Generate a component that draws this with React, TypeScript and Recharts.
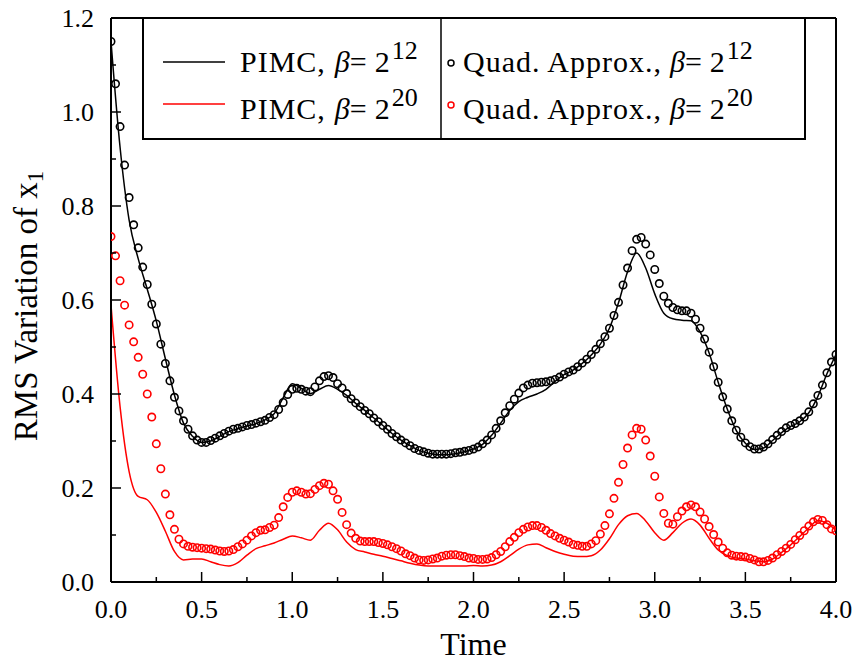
import React from 'react';
import { ComposedChart, Line, Scatter, XAxis, YAxis, Label } from 'recharts';

// Quadratic approximation samples (t = 0 .. 4 step 0.025)
const QUAD_STEP = 0.025;
const quad12 = [
  1.150, 1.060, 0.969, 0.887, 0.818, 0.760, 0.711, 0.670, 0.633, 0.591,
  0.549, 0.506, 0.465, 0.428, 0.393, 0.364, 0.343, 0.325, 0.311, 0.302,
  0.297, 0.297, 0.301, 0.306, 0.311, 0.316, 0.321, 0.325, 0.327, 0.330,
  0.333, 0.335, 0.338, 0.341, 0.344, 0.350, 0.356, 0.367, 0.382, 0.399,
  0.410, 0.412, 0.410, 0.406, 0.405, 0.415, 0.428, 0.437, 0.439, 0.435,
  0.422, 0.413, 0.401, 0.390, 0.381, 0.373, 0.365, 0.358, 0.349, 0.341,
  0.333, 0.325, 0.316, 0.309, 0.302, 0.296, 0.290, 0.284, 0.280, 0.277,
  0.274, 0.272, 0.272, 0.272, 0.272, 0.273, 0.275, 0.276, 0.278, 0.280,
  0.283, 0.287, 0.294, 0.302, 0.313, 0.327, 0.343, 0.360, 0.375, 0.389,
  0.402, 0.413, 0.419, 0.423, 0.424, 0.425, 0.426, 0.428, 0.431, 0.436,
  0.442, 0.447, 0.451, 0.458, 0.466, 0.474, 0.484, 0.495, 0.507, 0.522,
  0.540, 0.567, 0.595, 0.632, 0.668, 0.705, 0.729, 0.733, 0.719, 0.696,
  0.665, 0.635, 0.608, 0.593, 0.584, 0.579, 0.577, 0.577, 0.572, 0.559,
  0.540, 0.517, 0.489, 0.458, 0.425, 0.394, 0.368, 0.343, 0.323, 0.308,
  0.296, 0.288, 0.283, 0.283, 0.287, 0.294, 0.303, 0.312, 0.320, 0.328,
  0.333, 0.337, 0.343, 0.351, 0.362, 0.379, 0.397, 0.419, 0.445, 0.468,
  0.484,
];
const quad20 = [
  0.735, 0.694, 0.641, 0.589, 0.547, 0.511, 0.478, 0.442, 0.400, 0.351,
  0.294, 0.241, 0.187, 0.143, 0.112, 0.091, 0.081, 0.076, 0.074, 0.073,
  0.072, 0.071, 0.070, 0.068, 0.066, 0.065, 0.066, 0.069, 0.075, 0.081,
  0.089, 0.098, 0.105, 0.110, 0.111, 0.116, 0.121, 0.137, 0.160, 0.180,
  0.191, 0.194, 0.191, 0.187, 0.188, 0.197, 0.205, 0.210, 0.208, 0.194,
  0.176, 0.148, 0.122, 0.104, 0.093, 0.087, 0.086, 0.086, 0.086, 0.084,
  0.082, 0.079, 0.075, 0.071, 0.066, 0.060, 0.056, 0.051, 0.047, 0.046,
  0.047, 0.049, 0.051, 0.055, 0.057, 0.058, 0.058, 0.056, 0.054, 0.051,
  0.050, 0.048, 0.048, 0.049, 0.052, 0.058, 0.065, 0.075, 0.086, 0.095,
  0.105, 0.112, 0.117, 0.120, 0.120, 0.116, 0.110, 0.103, 0.098, 0.093,
  0.089, 0.085, 0.080, 0.078, 0.076, 0.076, 0.081, 0.088, 0.102, 0.120,
  0.145, 0.178, 0.212, 0.250, 0.285, 0.313, 0.327, 0.325, 0.302, 0.268,
  0.225, 0.181, 0.146, 0.125, 0.123, 0.139, 0.151, 0.160, 0.164, 0.160,
  0.149, 0.134, 0.118, 0.101, 0.085, 0.072, 0.062, 0.057, 0.055, 0.054,
  0.053, 0.050, 0.047, 0.043, 0.043, 0.046, 0.051, 0.058, 0.065, 0.072,
  0.080, 0.090, 0.099, 0.109, 0.119, 0.128, 0.133, 0.131, 0.122, 0.113,
  0.109,
];

// PIMC samples (t = 0 .. 4 step 0.05)
const LINE_STEP = 0.05;
const pimc12 = [
  1.150, 0.925, 0.770, 0.688, 0.623, 0.555, 0.475, 0.398, 0.338, 0.310,
  0.297, 0.300, 0.310, 0.320, 0.326, 0.332, 0.337, 0.345, 0.358, 0.392,
  0.422, 0.412, 0.401, 0.410, 0.418, 0.410, 0.397, 0.380, 0.365, 0.349,
  0.333, 0.316, 0.302, 0.290, 0.280, 0.274, 0.271, 0.271, 0.273, 0.277,
  0.283, 0.293, 0.312, 0.338, 0.365, 0.384, 0.393, 0.400, 0.410, 0.427,
  0.441, 0.451, 0.465, 0.483, 0.506, 0.540, 0.594, 0.660, 0.700, 0.668,
  0.613, 0.572, 0.560, 0.557, 0.556, 0.532, 0.487, 0.425, 0.368, 0.322,
  0.295, 0.282, 0.285, 0.301, 0.318, 0.331, 0.341, 0.360, 0.395, 0.443,
  0.484,
];
const pimc20 = [
  0.589, 0.373, 0.235, 0.182, 0.175, 0.148, 0.108, 0.065, 0.047, 0.049,
  0.049, 0.043, 0.037, 0.034, 0.041, 0.057, 0.071, 0.077, 0.083, 0.091,
  0.098, 0.094, 0.089, 0.110, 0.125, 0.111, 0.085, 0.069, 0.064, 0.059,
  0.055, 0.050, 0.045, 0.040, 0.036, 0.034, 0.034, 0.034, 0.034, 0.034,
  0.035, 0.034, 0.036, 0.043, 0.056, 0.070, 0.079, 0.081, 0.073, 0.065,
  0.059, 0.055, 0.054, 0.056, 0.068, 0.092, 0.122, 0.141, 0.146, 0.130,
  0.105, 0.089, 0.105, 0.125, 0.134, 0.121, 0.093, 0.068, 0.056, 0.051,
  0.049, 0.045, 0.043, 0.049, 0.063, 0.079, 0.097, 0.115, 0.131, 0.125,
  0.110,
];

const xTicks = [0, 0.25, 0.5, 0.75, 1, 1.25, 1.5, 1.75, 2, 2.25, 2.5, 2.75, 3, 3.25, 3.5, 3.75, 4];
const xMajor = [0, 0.5, 1, 1.5, 2, 2.5, 3, 3.5, 4];
const yTicks = [0, 0.1, 0.2, 0.3, 0.4, 0.5, 0.6, 0.7, 0.8, 0.9, 1.0, 1.1, 1.2];
const yMajor = [0, 0.2, 0.4, 0.6, 0.8, 1.0, 1.2];

const FONT = '"Liberation Serif", "Times New Roman", Times, serif';

const toPoints = (vals: number[], step: number) =>
  vals.map((v, i) => ({ t: Math.round(i * step * 1000) / 1000, v }));

const q12 = toPoints(quad12, QUAD_STEP);
const q20 = toPoints(quad20, QUAD_STEP);
const p12 = toPoints(pimc12, LINE_STEP);
const p20 = toPoints(pimc20, LINE_STEP);

const isMajor = (val: number, majors: number[]) => majors.some((m) => Math.abs(m - val) < 1e-6);

const XTick = (props: any) => {
  const { x, y, payload } = props;
  const major = isMajor(payload.value, xMajor);
  return (
    <g>
      <line x1={x} x2={x} y1={y} y2={y - (major ? 10 : 5)} stroke="#000" strokeWidth={1.5} />
      {major && (
        <text x={x} y={y + 36} textAnchor="middle" style={{ fontFamily: FONT, fontSize: 26 }} fill="#000">
          {payload.value.toFixed(1)}
        </text>
      )}
    </g>
  );
};

const YTickLeft = (props: any) => {
  const { x, y, payload } = props;
  const major = isMajor(payload.value, yMajor);
  return (
    <g>
      <line x1={x} x2={x + (major ? 10 : 5)} y1={y} y2={y} stroke="#000" strokeWidth={1.5} />
      {major && (
        <text x={x - 17} y={y + 9} textAnchor="end" style={{ fontFamily: FONT, fontSize: 26 }} fill="#000">
          {payload.value.toFixed(1)}
        </text>
      )}
    </g>
  );
};

const YTickRight = (props: any) => {
  const { x, y, payload } = props;
  const major = isMajor(payload.value, yMajor);
  return <line x1={x} x2={x - (major ? 10 : 5)} y1={y} y2={y} stroke="#000" strokeWidth={1.5} />;
};

const NoTick = () => <g />;

const circleShape = (color: string) => (p: any) =>
  <circle cx={p.cx} cy={p.cy} r={3.7} fill="none" stroke={color} strokeWidth={1.6} />;

const TimeLabel = (props: any) => {
  const vb = props.viewBox || {};
  return (
    <text x={vb.x + vb.width / 2} y={vb.y + 73} textAnchor="middle" style={{ fontFamily: FONT, fontSize: 32 }} fill="#000">
      Time
    </text>
  );
};

const RmsLabel = (props: any) => {
  const vb = props.viewBox || {};
  const cx = 37;
  const cy = vb.y + vb.height / 2 + 6;
  return (
    <text
      x={cx}
      y={cy}
      transform={`rotate(-90, ${cx}, ${cy})`}
      textAnchor="middle"
      style={{ fontFamily: FONT, fontSize: 33 }}
      fill="#000"
    >
      RMS Variation of x<tspan style={{ fontSize: 23 }} dy={6}>1</tspan>
    </text>
  );
};

const Entry = ({ x, y, label, exp, gap }: { x: number; y: number; label: string; exp: string; gap: number }) => (
  <text x={x} y={y} style={{ fontFamily: FONT, fontSize: 30 }} fill="#000">
    <tspan letterSpacing={1}>{label}</tspan>
    <tspan dx={gap} fontStyle="italic">β</tspan>
    <tspan>=</tspan>
    <tspan dx={8}>2</tspan>
    <tspan style={{ fontSize: 26 }} dx={2} dy={-13}>{exp}</tspan>
  </text>
);

const LegendBox = () => (
  <svg
    width={856}
    height={661}
    style={{ position: 'absolute', left: 0, top: 0, pointerEvents: 'none' }}
  >
    <rect x={143} y={18} width={662} height={121} fill="#fff" stroke="#000" strokeWidth={2} />
    <line x1={441} x2={441} y1={18} y2={139} stroke="#000" strokeWidth={1.5} />
    <line x1={163} x2={225} y1={62} y2={62} stroke="#000" strokeWidth={1.5} />
    <line x1={163} x2={225} y1={104} y2={104} stroke="#ff0000" strokeWidth={1.5} />
    <Entry x={240} y={72} label="PIMC," exp="12" gap={9} />
    <Entry x={240} y={119} label="PIMC," exp="20" gap={9} />
    <circle cx={451} cy={63} r={3} fill="none" stroke="#000" strokeWidth={1.5} />
    <circle cx={451} cy={105} r={3} fill="none" stroke="#ff0000" strokeWidth={1.5} />
    <Entry x={463} y={72} label="Quad. Approx.," exp="12" gap={8} />
    <Entry x={463} y={119} label="Quad. Approx.," exp="20" gap={8} />
  </svg>
);

export default function App() {
  return (
    <div style={{ position: 'relative', width: 856, height: 661, background: '#fff' }}>
      <style>{'body{margin:0;background:#fff;}'}</style>
      <ComposedChart width={856} height={661} margin={{ top: 0, right: 0, bottom: 0, left: 0 }}>
        <XAxis
          dataKey="t"
          type="number"
          domain={[0, 4]}
          ticks={xTicks}
          interval={0}
          height={79}
          tickSize={0}
          tickMargin={0}
          tickLine={false}
          axisLine={{ stroke: '#000', strokeWidth: 2 }}
          tick={(p: any) => <XTick {...p} />}
          allowDataOverflow
        >
          <Label content={(p: any) => <TimeLabel {...p} />} />
        </XAxis>
        <XAxis
          xAxisId="top"
          orientation="top"
          type="number"
          domain={[0, 4]}
          ticks={xTicks}
          height={18}
          tickSize={0}
          tickLine={false}
          axisLine={{ stroke: '#000', strokeWidth: 2 }}
          tick={NoTick}
        />
        <YAxis
          dataKey="v"
          type="number"
          domain={[0, 1.2]}
          ticks={yTicks}
          interval={0}
          width={111}
          tickSize={0}
          tickMargin={0}
          tickLine={false}
          axisLine={{ stroke: '#000', strokeWidth: 2 }}
          tick={(p: any) => <YTickLeft {...p} />}
          allowDataOverflow
        >
          <Label content={(p: any) => <RmsLabel {...p} />} />
        </YAxis>
        <YAxis
          yAxisId="right"
          orientation="right"
          type="number"
          domain={[0, 1.2]}
          ticks={yTicks}
          interval={0}
          width={20}
          tickSize={0}
          tickMargin={0}
          tickLine={false}
          axisLine={{ stroke: '#000', strokeWidth: 2 }}
          tick={(p: any) => <YTickRight {...p} />}
        />
        <Line data={p12} dataKey="v" type="monotone" stroke="#000" strokeWidth={1.5} dot={false} isAnimationActive={false} />
        <Line data={p20} dataKey="v" type="monotone" stroke="#ff0000" strokeWidth={1.5} dot={false} isAnimationActive={false} />
        <Scatter data={q12} dataKey="v" shape={circleShape('#000')} isAnimationActive={false} />
        <Scatter data={q20} dataKey="v" shape={circleShape('#ff0000')} isAnimationActive={false} />
      </ComposedChart>
      <LegendBox />
    </div>
  );
}
